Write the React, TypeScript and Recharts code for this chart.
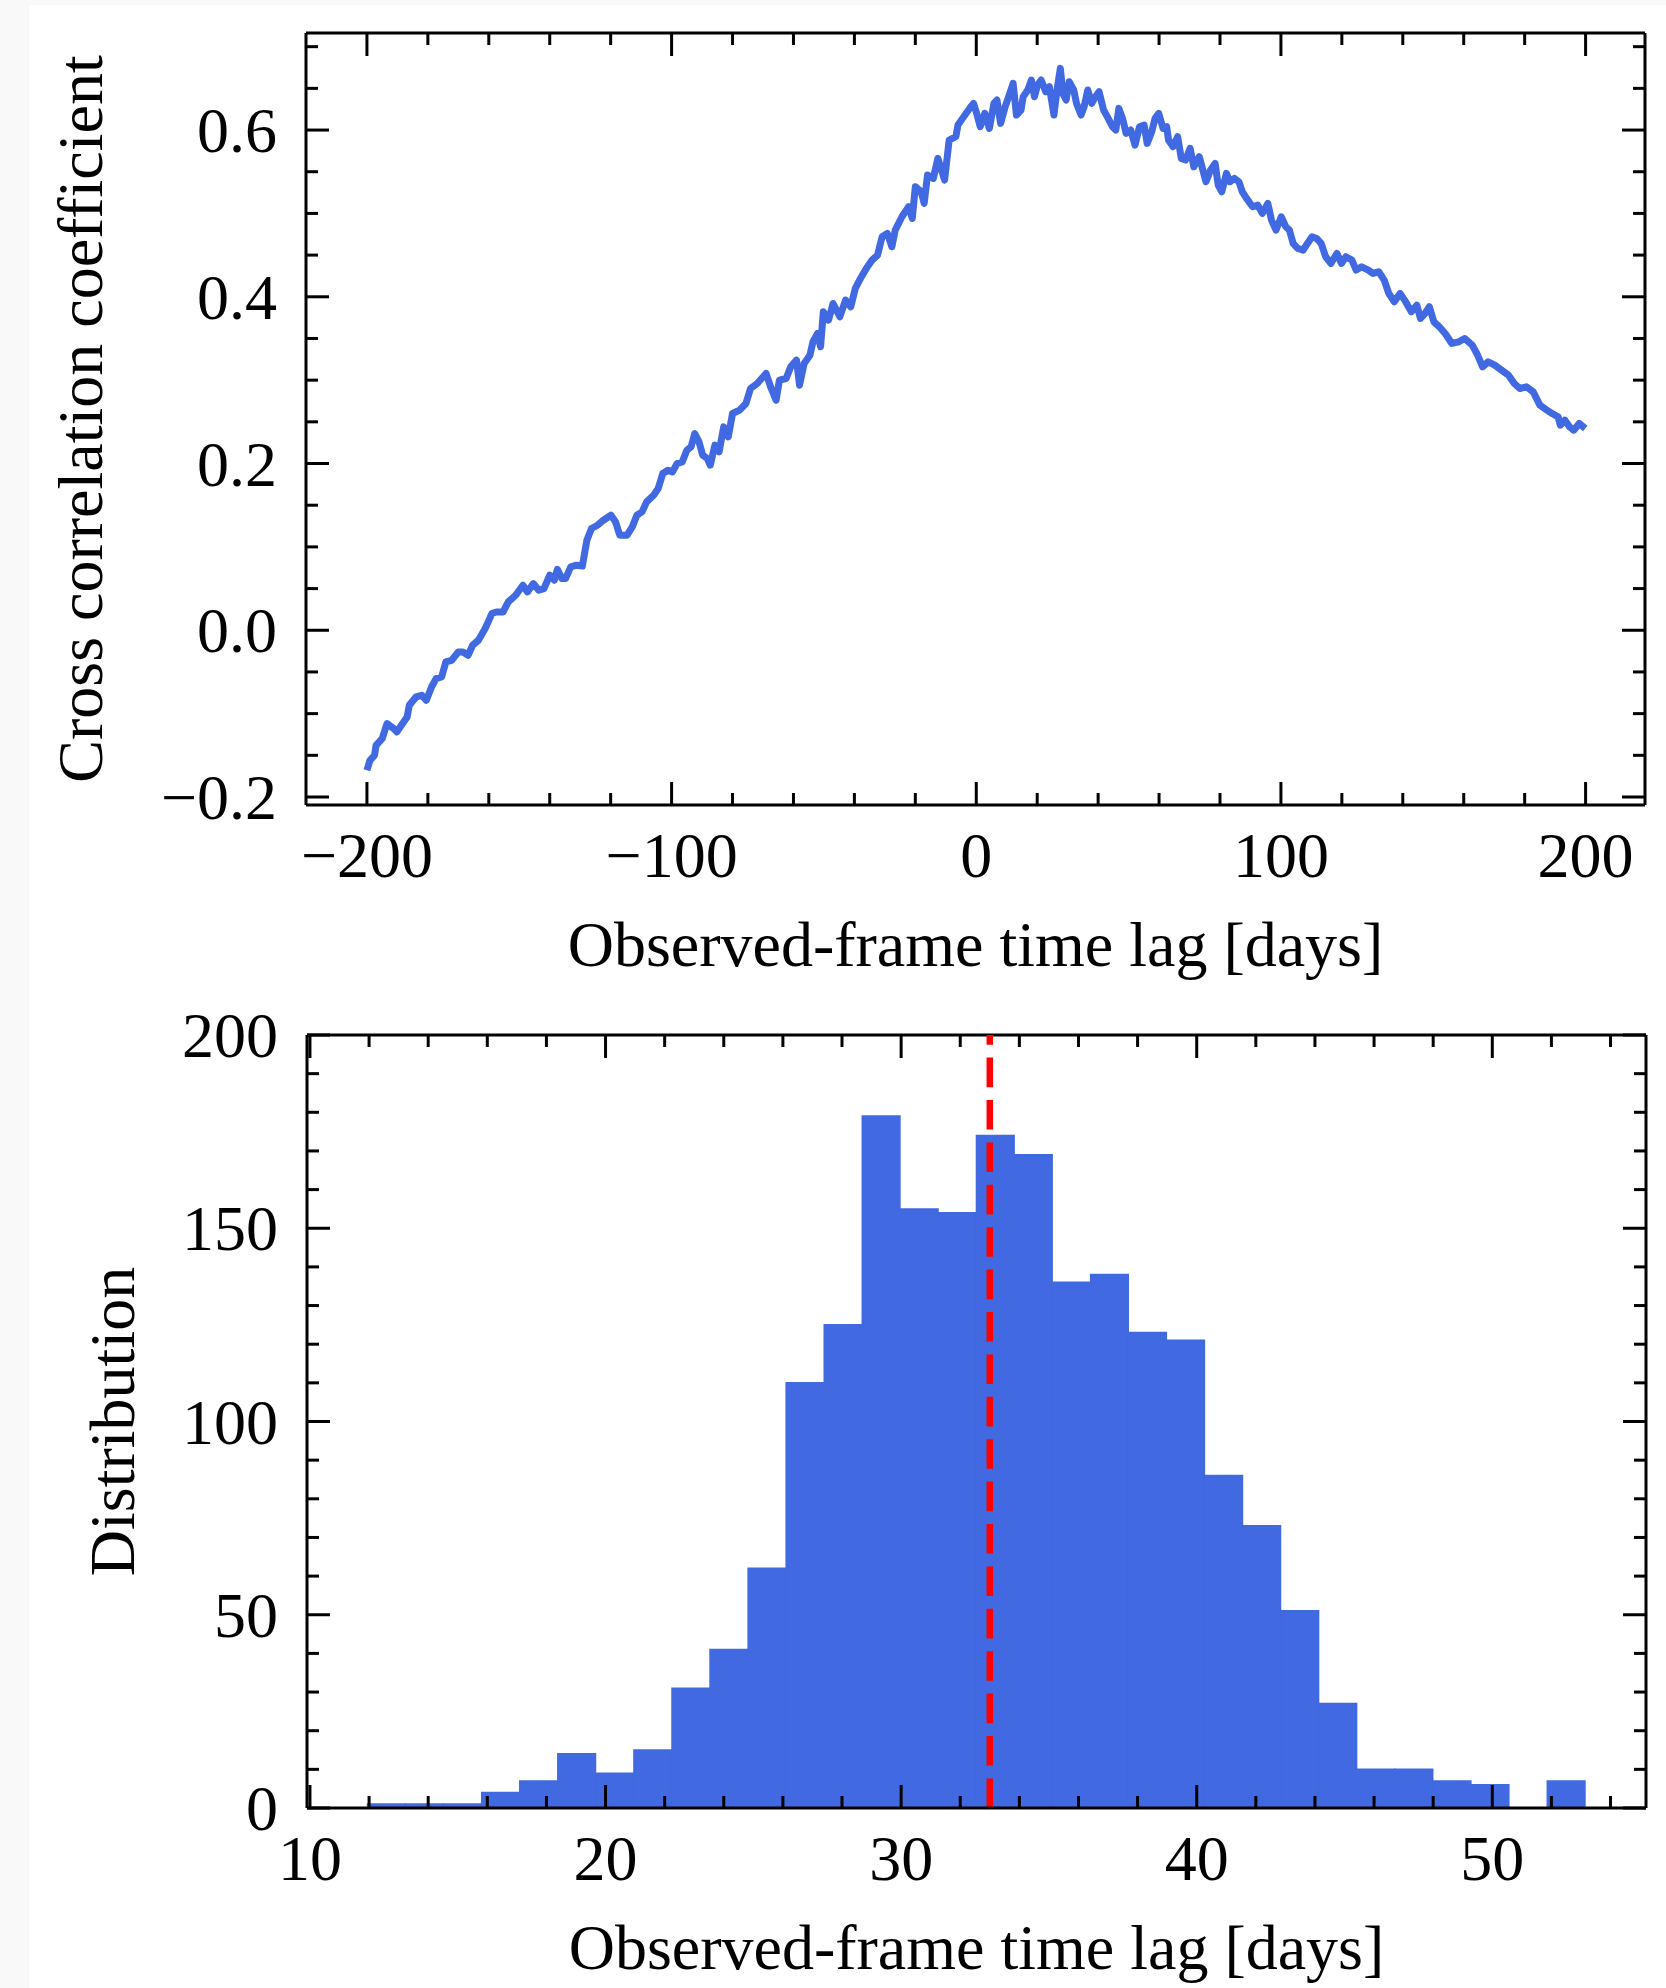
import React from 'react';
import { LineChart, Line, XAxis, YAxis, ComposedChart, Bar, ReferenceLine } from 'recharts';

// ---------- Top panel: cross-correlation function ----------
const lagDays = [
  -200, -199, -197.5, -197, -195, -193.4, -191.2, -190.2, -188.7, -186.8, -186.1, -183.9, -182, -180.5,
  -178.8, -177.3, -175.5, -174.1, -172.2, -170, -168.5, -166.8, -165.3, -163.4, -161.2, -159, -157.5,
  -155.3, -153.6, -151.2, -148.8, -147.3, -145.4, -143.6, -141.9, -140, -138.5, -137.5, -136, -134.8,
  -133.1, -131.2, -129.3, -127.8, -126.3, -124.3, -122.4, -119.9, -118.4, -117, -114.6, -112.9, -111.4,
  -109.7, -108.2, -105.9, -104.4, -102.9, -101.2, -99.7, -98.2, -96.5, -95, -93.6, -92.4, -91, -89.8,
  -88.3, -87.3, -85.8, -84.4, -82.9, -81.4, -80, -77.7, -75.6, -74.1, -71.9, -69, -67.5, -65.7, -64.6,
  -62.4, -60.9, -59, -58, -56.5, -54.6, -53.6, -52.1, -51.1, -50.2, -48.5, -47, -44.8, -42.9, -41.2,
  -39.7, -38, -36.1, -34.2, -32.4, -30.9, -29.2, -27.7, -26.6, -24.4, -22.2, -21, -20, -18.1, -17.1,
  -16, -14.1, -12.6, -10.4, -8.9, -6.7, -6, -4.5, -1.8, -0.9, 0.3, 1.3, 2.8, 4.3, 5.8, 6.8, 8, 9.5, 11,
  12.1, 13.2, 14.7, 15.4, 16.9, 18.1, 19.1, 20.1, 21.3, 22.8, 24, 25.5, 26.5, 27.6, 28.4, 29.5, 30.5, 32,
  32.9, 34.4, 35.4, 36.6, 37.9, 39.1, 40.3, 41.8, 43.3, 44.7, 45.8, 46.8, 48, 49.2, 50.7, 52.1, 53.6,
  55.1, 56.1, 57.6, 58.7, 59.9, 61.3, 62.5, 63.1, 64.6, 66.1, 67.3, 68.7, 70.2, 71.4, 73.2, 75.4, 76.9,
  78.4, 79.4, 80.6, 82.1, 83.3, 84.7, 86.2, 87.3, 88.7, 90.7, 92.4, 93.9, 95.7, 96.9, 98.4, 100.1, 101.6,
  102.8, 104, 105.5, 107.3, 108.7, 110.2, 111.7, 113.2, 114.7, 116.4, 118.4, 119.9, 121.3, 123.3, 124.7,
  126.5, 128.7, 130.2, 132.1, 133.9, 135.4, 137.2, 139.1, 140.6, 142.8, 144.6, 145.8, 147.3, 148.7,
  150.2, 152, 153.9, 156.1, 158.4, 160.3, 162.8, 164.3, 166.2, 168, 170.2, 172.4, 174.7, 176.6, 178.4,
  180.6, 182.8, 185, 187.3, 189, 191, 191.7, 193.2, 194.7, 196.1, 197.9, 199.9,
];
const ccfValues = [
  -0.168, -0.156, -0.15, -0.138, -0.13, -0.112, -0.118, -0.122, -0.114, -0.104, -0.09, -0.08, -0.078, -0.084,
  -0.068, -0.058, -0.056, -0.038, -0.036, -0.026, -0.026, -0.03, -0.018, -0.012, 0.002, 0.02, 0.022,
  0.022, 0.034, 0.042, 0.054, 0.046, 0.056, 0.048, 0.05, 0.066, 0.06, 0.073, 0.062, 0.062,
  0.076, 0.078, 0.077, 0.108, 0.122, 0.126, 0.132, 0.138, 0.13, 0.114, 0.114, 0.124, 0.138,
  0.142, 0.154, 0.162, 0.17, 0.188, 0.192, 0.19, 0.2, 0.202, 0.216, 0.22, 0.236, 0.226, 0.21,
  0.206, 0.198, 0.222, 0.214, 0.244, 0.232, 0.26, 0.264, 0.272, 0.29, 0.296, 0.308, 0.292, 0.276, 0.3,
  0.302, 0.316, 0.324, 0.294, 0.32, 0.33, 0.346, 0.356, 0.34, 0.382, 0.372, 0.392, 0.376, 0.396, 0.388,
  0.41, 0.422, 0.434, 0.444, 0.45, 0.472, 0.476, 0.46, 0.48, 0.496, 0.508, 0.494, 0.532, 0.526, 0.512,
  0.546, 0.542, 0.566, 0.54, 0.588, 0.592, 0.606, 0.614, 0.628, 0.632, 0.618, 0.604, 0.62, 0.602, 0.632, 0.636, 0.608, 0.628, 0.644,
  0.656, 0.618, 0.624, 0.64, 0.648, 0.66, 0.64, 0.654, 0.66, 0.646, 0.652, 0.618, 0.648, 0.674, 0.644, 0.636, 0.658, 0.648,
  0.632, 0.618, 0.628, 0.648, 0.632, 0.64, 0.646, 0.624, 0.614, 0.604, 0.6, 0.626, 0.614, 0.596, 0.6, 0.582, 0.604,
  0.606, 0.584, 0.598, 0.614, 0.62, 0.602, 0.604, 0.588, 0.58, 0.592, 0.566, 0.564, 0.578, 0.556, 0.568, 0.538, 0.552,
  0.56, 0.534, 0.526, 0.548, 0.538, 0.542, 0.538, 0.526, 0.518, 0.508, 0.51, 0.5, 0.512, 0.492, 0.48, 0.496, 0.484,
  0.48, 0.464, 0.458, 0.456, 0.464, 0.472, 0.47, 0.464, 0.448, 0.44, 0.452, 0.44, 0.448, 0.444, 0.432,
  0.436, 0.432, 0.428, 0.43, 0.42, 0.404, 0.394, 0.404, 0.396, 0.382, 0.39, 0.374, 0.38, 0.388,
  0.37, 0.364, 0.356, 0.344, 0.346, 0.35, 0.342, 0.332, 0.316, 0.322, 0.318, 0.312, 0.306, 0.296, 0.29,
  0.292, 0.286, 0.27, 0.264, 0.26, 0.256, 0.246, 0.252, 0.244, 0.24, 0.248, 0.242,
];
const topXMajor = [-200, -100, 0, 100, 200];
const topXTicks = [-200, -180, -160, -140, -120, -100, -80, -60, -40, -20, 0, 20, 40, 60, 80, 100, 120, 140, 160, 180, 200];
const topYMajor = [-0.2, 0, 0.2, 0.4, 0.6];
const topYTicks = [-0.2, -0.15, -0.1, -0.05, 0, 0.05, 0.1, 0.15, 0.2, 0.25, 0.3, 0.35, 0.4, 0.45, 0.5, 0.55, 0.6, 0.65, 0.7];
const topXDomain = [-220, 219.5];
const topYDomain = [-0.2096, 0.7164];

// ---------- Bottom panel: lag distribution histogram ----------
const binCenters = [
  12.594, 13.881, 15.169, 16.456, 17.744, 19.031, 20.319, 21.606, 22.894, 24.181, 25.469, 26.756, 28.044, 29.331,
  30.619, 31.906, 33.194, 34.481, 35.769, 37.056, 38.344, 39.631, 40.919, 42.206, 43.494, 44.781, 46.069, 47.356,
  48.644, 49.931, 51.219, 52.506,
];
const binCounts = [
  1, 1, 1, 4, 7, 14, 9, 15, 31, 41, 62, 110, 125, 179, 155, 154,
  174, 169, 136, 138, 123, 121, 86, 73, 51, 27, 10, 10, 7, 6, 0, 7,
];
const BIN_WIDTH = 1.2875;
const medianLag = 33.0;
const botXMajor = [10, 20, 30, 40, 50];
const botXTicks = [10, 12, 14, 16, 18, 20, 22, 24, 26, 28, 30, 32, 34, 36, 38, 40, 42, 44, 46, 48, 50, 52, 54];
const botYMajor = [0, 50, 100, 150, 200];
const botYTicks = [0, 10, 20, 30, 40, 50, 60, 70, 80, 90, 100, 110, 120, 130, 140, 150, 160, 170, 180, 190, 200];
const botXDomain = [9.9, 55.2];
const botYDomain = [0, 200];

// ---------- styling / layout ----------
const FONT = "'Liberation Serif', 'Times New Roman', Times, serif";
const FS = 64;
const MAJ = 23;
const MIN = 12;
const TW = 3;
const BLUE = '#4169E1';
const W = 1666;

const TOP_H = 1000;
const TOP_MARGIN_T = 33;
const TOP_XAXIS_H = 195;
const TOP_PLOT_H = TOP_H - TOP_MARGIN_T - TOP_XAXIS_H;

const BOT_H = 988;
const BOT_MARGIN_T = 35;
const BOT_XAXIS_H = 180;
const BOT_PLOT_H = BOT_H - BOT_MARGIN_T - BOT_XAXIS_H;

const minusFmt = (s: string) => s.replace('-', '\u2212');

// bottom-axis tick renderer: draws the inward tick at the bottom spine and its
// mirror at the top spine (plotH above), plus the label for major ticks
function makeXTick(majors: number[], plotH: number, fmt: (v: number) => string) {
  return (props: any) => {
    const { x, y, payload } = props;
    const v = Number(payload.value);
    const major = majors.some((m) => Math.abs(m - v) < 1e-6);
    const len = major ? MAJ : MIN;
    const yTop = y - plotH;
    return (
      <g>
        <line x1={x} y1={y} x2={x} y2={y - len} stroke="#000" strokeWidth={TW} />
        <line x1={x} y1={yTop} x2={x} y2={yTop + len} stroke="#000" strokeWidth={TW} />
        {major ? (
          <text x={x} y={y + 72} textAnchor="middle" fontFamily={FONT} fontSize={FS} fill="#000">
            {fmt(v)}
          </text>
        ) : null}
      </g>
    );
  };
}

function makeYTick(side: 'left' | 'right', majors: number[], fmt?: (v: number) => string) {
  return (props: any) => {
    const { x, y, payload } = props;
    const v = Number(payload.value);
    const major = majors.some((m) => Math.abs(m - v) < 1e-6);
    const len = major ? MAJ : MIN;
    if (side === 'left') {
      return (
        <g>
          <line x1={x} y1={y} x2={x + len} y2={y} stroke="#000" strokeWidth={TW} />
          {major && fmt ? (
            <text x={x - 29} y={y + 22} textAnchor="end" fontFamily={FONT} fontSize={FS} fill="#000">
              {fmt(v)}
            </text>
          ) : null}
        </g>
      );
    }
    return (
      <g>
        <line x1={x} y1={y} x2={x - len} y2={y} stroke="#000" strokeWidth={TW} />
      </g>
    );
  };
}

const xLabel = (text: string) => (props: any) => {
  const vb = props.viewBox || {};
  return (
    <text x={vb.x + vb.width / 2} y={vb.y + 161} textAnchor="middle" fontFamily={FONT} fontSize={FS} fill="#000">
      {text}
    </text>
  );
};

const yLabel = (text: string, baselineX: number) => (props: any) => {
  const vb = props.viewBox || {};
  const cy = vb.y + vb.height / 2;
  return (
    <text
      x={baselineX}
      y={cy}
      transform={`rotate(-90 ${baselineX} ${cy})`}
      textAnchor="middle"
      fontFamily={FONT}
      fontSize={FS}
      fill="#000"
    >
      {text}
    </text>
  );
};

const axisLineStyle = { stroke: '#000', strokeWidth: 3 };

function TopPanel() {
  const data = lagDays.map((lag, i) => ({ lag, r: ccfValues[i] }));
  return (
    <LineChart width={W} height={TOP_H} data={data} margin={{ top: TOP_MARGIN_T, right: 20, left: 0, bottom: 0 }}>
      <XAxis
        xAxisId="b"
        dataKey="lag"
        type="number"
        domain={topXDomain}
        allowDataOverflow
        ticks={topXTicks}
        interval={0}
        height={TOP_XAXIS_H}
        tickSize={0}
        tickMargin={0}
        tickLine={false}
        axisLine={axisLineStyle}
        tick={makeXTick(topXMajor, TOP_PLOT_H, (v) => minusFmt(String(v)))}
        label={xLabel('Observed-frame time lag [days]')}
      />
      <YAxis
        yAxisId="l"
        type="number"
        domain={topYDomain}
        allowDataOverflow
        ticks={topYTicks}
        interval={0}
        width={306}
        tickSize={0}
        tickMargin={0}
        tickLine={false}
        axisLine={axisLineStyle}
        tick={makeYTick('left', topYMajor, (v) => minusFmt(v.toFixed(1)))}
        label={yLabel('Cross correlation coefficient', 102)}
      />
      <YAxis
        yAxisId="r"
        orientation="right"
        type="number"
        domain={topYDomain}
        allowDataOverflow
        ticks={topYTicks}
        interval={0}
        width={1}
        tickSize={0}
        tickMargin={0}
        tickLine={false}
        axisLine={axisLineStyle}
        tick={makeYTick('right', topYMajor)}
      />
      <ReferenceLine xAxisId="b" yAxisId="l" y={topYDomain[1]} stroke="#000" strokeWidth={3} />
      <Line
        xAxisId="b"
        yAxisId="l"
        dataKey="r"
        type="linear"
        stroke={BLUE}
        strokeWidth={7}
        strokeLinejoin="round"
        dot={false}
        isAnimationActive={false}
      />
    </LineChart>
  );
}

function BottomPanel() {
  const data = binCenters.map((c, i) => ({ c, n: binCounts[i] }));
  const plotW = W - 307 - 20;
  const barPx = (BIN_WIDTH * plotW) / (botXDomain[1] - botXDomain[0]) - 0.5;
  return (
    <ComposedChart
      width={W}
      height={BOT_H}
      data={data}
      margin={{ top: BOT_MARGIN_T, right: 19, left: 0, bottom: 0 }}
      barGap={0}
    >
      <XAxis
        xAxisId="b"
        dataKey="c"
        type="number"
        domain={botXDomain}
        allowDataOverflow
        ticks={botXTicks}
        interval={0}
        height={BOT_XAXIS_H}
        tickSize={0}
        tickMargin={0}
        tickLine={false}
        axisLine={axisLineStyle}
        tick={makeXTick(botXMajor, BOT_PLOT_H, (v) => String(v))}
        label={xLabel('Observed-frame time lag [days]')}
      />
      <YAxis
        yAxisId="l"
        type="number"
        domain={botYDomain}
        allowDataOverflow
        ticks={botYTicks}
        interval={0}
        width={307}
        tickSize={0}
        tickMargin={0}
        tickLine={false}
        axisLine={axisLineStyle}
        tick={makeYTick('left', botYMajor, (v) => String(v))}
        label={yLabel('Distribution', 134)}
      />
      <YAxis
        yAxisId="r"
        orientation="right"
        type="number"
        domain={botYDomain}
        allowDataOverflow
        ticks={botYTicks}
        interval={0}
        width={1}
        tickSize={0}
        tickMargin={0}
        tickLine={false}
        axisLine={axisLineStyle}
        tick={makeYTick('right', botYMajor)}
      />
      <Bar
        xAxisId="b"
        yAxisId="l"
        dataKey="n"
        fill={BLUE}
        stroke={BLUE}
        strokeWidth={1.6}
        barSize={barPx}
        isAnimationActive={false}
      />
      <ReferenceLine xAxisId="b" yAxisId="l" y={botYDomain[1]} stroke="#000" strokeWidth={3} />
      <ReferenceLine
        xAxisId="b"
        yAxisId="l"
        x={medianLag}
        stroke="#ff0000"
        strokeWidth={6.5}
        strokeDasharray="29.6 12.8"
      />
    </ComposedChart>
  );
}

export default function App() {
  return (
    <div style={{ position: 'absolute', left: 0, top: 0, width: 1666, height: 1988, background: '#f9f9f9' }}>
      <div style={{ position: 'absolute', left: 29, top: 5, right: 0, bottom: 0, background: '#ffffff' }} />
      <div style={{ position: 'absolute', left: 0, top: 0 }}>
        <TopPanel />
      </div>
      <div style={{ position: 'absolute', left: 0, top: 1000 }}>
        <BottomPanel />
      </div>
    </div>
  );
}
